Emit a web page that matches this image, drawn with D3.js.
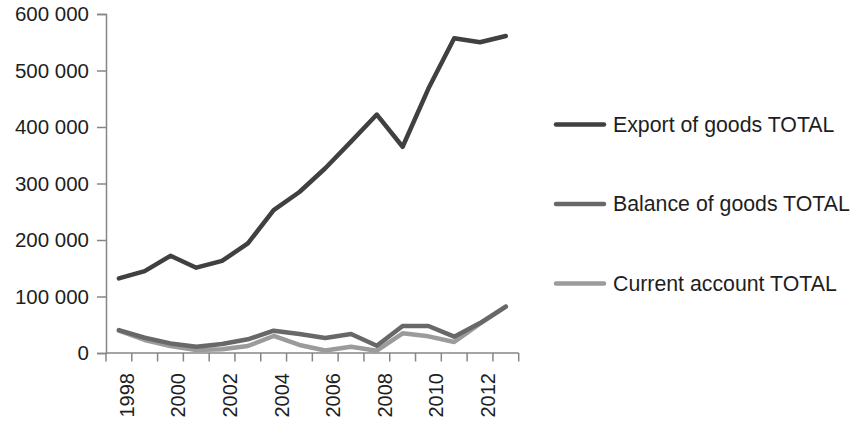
<!DOCTYPE html>
<html><head><meta charset="utf-8">
<script src="https://cdn.jsdelivr.net/npm/d3@7"></script>
<style>body{margin:0;background:#fff}</style>
</head><body>
<svg id="c" width="855" height="423"></svg>
<script>
const years = [1998,1999,2000,2001,2002,2003,2004,2005,2006,2007,2008,2009,2010,2011,2012,2013];
const yearLabels = ["1998","","2000","","2002","","2004","","2006","","2008","","2010","","2012",""];
const exportGoods = [132000,145000,172000,151000,163000,194000,253000,285000,327000,374000,422000,365000,468000,557000,550000,561000];
const balanceGoods = [40500,27000,17000,11200,15900,24200,39500,33600,26500,33600,12700,47800,47800,28900,53000,82000];
const currentAccount = [39500,23000,12400,5300,6500,12400,30100,14200,4500,11200,4100,34800,29500,19500,51800,82000];
const yTicks = [0,100000,200000,300000,400000,500000,600000];
const seriesNames = ["Export of goods TOTAL","Balance of goods TOTAL","Current account TOTAL"];
const seriesColors = ["#404040","#686868","#9b9b9b"];

(function(){
const svg = d3.select("#c");
const font = "'Liberation Sans', Arial, sans-serif";
const pLeft = 106, pRight = 518.7, pTop = 14, pBottom = 353;

const x = d3.scaleBand().domain(years).range([pLeft, pRight]).padding(0);
const y = d3.scaleLinear().domain([0, 600000]).range([pBottom, pTop]);
const fmt = v => d3.format(",")(v).replace(/,/g, " ");

// Y axis
const ya = svg.append("g").attr("transform", `translate(${pLeft},0)`)
  .call(d3.axisLeft(y).tickValues(yTicks).tickSize(9).tickPadding(8).tickFormat(fmt));
ya.select(".domain").attr("stroke", "#868686").attr("stroke-width", 1.5);
ya.selectAll(".tick line").attr("stroke", "#868686").attr("stroke-width", 1.5);
ya.selectAll("text").attr("font-family", font).attr("font-size", 20.5).attr("fill", "#1e1e1e");

// X axis
const xa = svg.append("g").attr("transform", `translate(0,${pBottom})`);
xa.append("line").attr("x1", pLeft).attr("x2", pRight).attr("y1", 0).attr("y2", 0)
  .attr("stroke", "#868686").attr("stroke-width", 1.5);
const bounds = years.map(d => x(d)).concat([pRight]);
xa.selectAll("line.t").data(bounds).enter().append("line").attr("class","t")
  .attr("x1", d => d).attr("x2", d => d).attr("y1", 0).attr("y2", 8.5)
  .attr("stroke", "#868686").attr("stroke-width", 1.5);
xa.selectAll("text").data(years).enter().append("text")
  .attr("transform", (d) => `translate(${x(d) + x.bandwidth()/2 + 8},20) rotate(-90)`)
  .attr("text-anchor", "end").attr("dy", "0.35em")
  .attr("font-family", font).attr("font-size", 20).attr("fill", "#1e1e1e")
  .text((d, i) => yearLabels[i]);

// Lines
const data = [exportGoods, balanceGoods, currentAccount];
const line = d3.line().x((d, i) => x(years[i]) + x.bandwidth()/2).y(d => y(d));
[2,1,0].forEach(k => {
  svg.append("path").datum(data[k]).attr("d", line)
    .attr("fill", "none").attr("stroke", seriesColors[k]).attr("stroke-width", 4.5)
    .attr("stroke-linejoin", "round").attr("stroke-linecap", "round");
});

// Legend
const legY = [124.5, 204, 283.5];
seriesNames.forEach((n, k) => {
  svg.append("line").attr("x1", 556).attr("x2", 604).attr("y1", legY[k]).attr("y2", legY[k])
    .attr("stroke", seriesColors[k]).attr("stroke-width", 4.5).attr("stroke-linecap", "round");
  svg.append("text").attr("x", 613).attr("y", legY[k]).attr("dy", "0.35em")
    .attr("font-family", font).attr("font-size", 21.3).attr("fill", "#1e1e1e").text(n);
});
})();
</script>
</body></html>
